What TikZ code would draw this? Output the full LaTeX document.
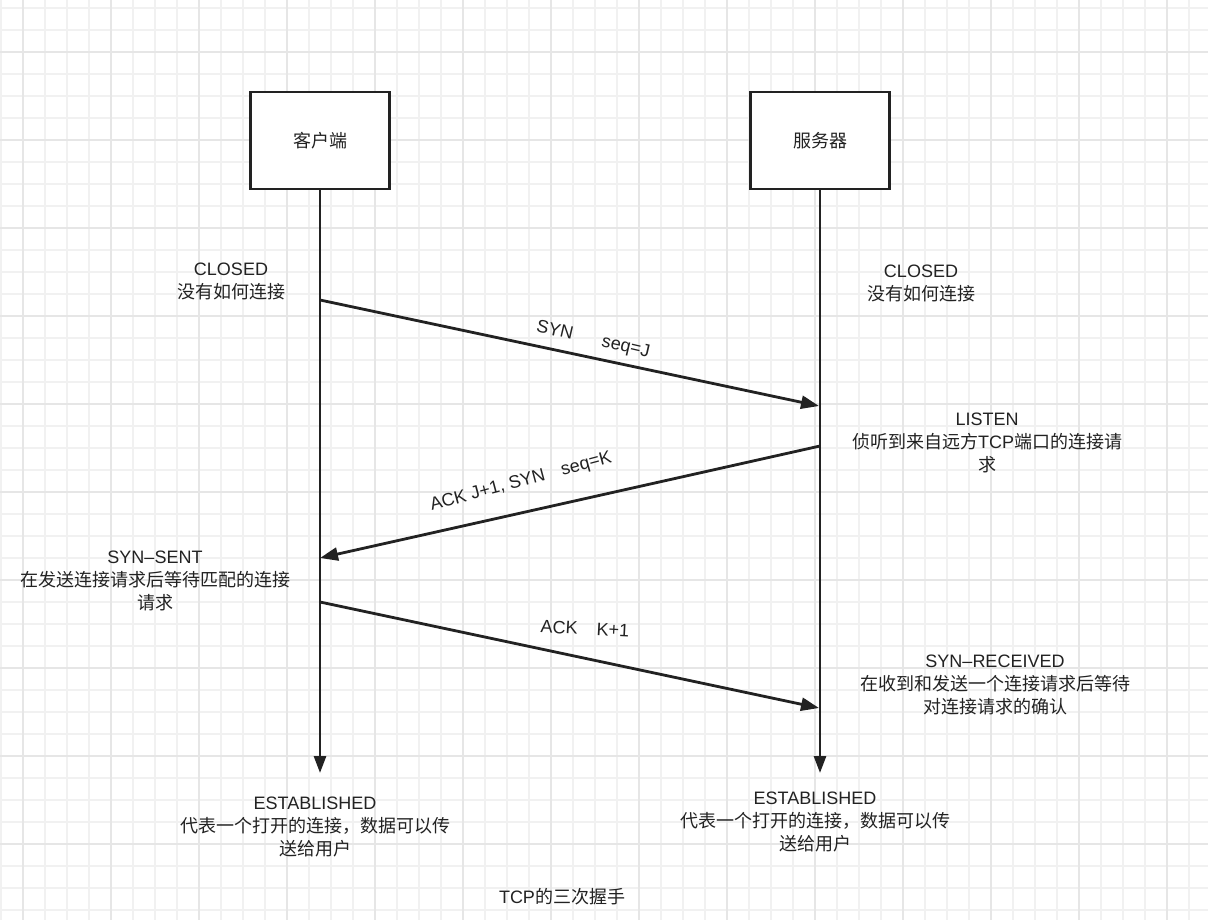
\documentclass[tikz,border=0pt]{standalone}
\usepackage{fontspec}
\setmainfont{Liberation Sans}
\newfontfamily\zhfont{Noto Sans CJK SC}
\newcommand{\zh}[1]{{\zhfont #1}}
\usetikzlibrary{arrows.meta}
\definecolor{ink}{HTML}{222222}
\definecolor{gridminor}{HTML}{F1F1F1}
\definecolor{gridmajor}{HTML}{E6E6E6}
\tikzset{
  minorline/.style={gridminor, line width=1.4pt},
  majorline/.style={gridmajor, line width=1.8pt},
  hostbox/.style={draw=ink, fill=white, line width=2.8pt, minimum width=139pt, minimum height=97pt, inner sep=0pt, text=ink},
  lifeline/.style={draw=ink, line width=2.8pt, -{Triangle[length=17pt,width=12pt]}},
  msgline/.style={draw=ink, line width=2.8pt, -{Triangle[length=18pt,width=13pt]}},
  statetext/.style={align=center, text=ink, inner sep=0pt},
}
\begin{document}
\begin{tikzpicture}[x=1pt, y=-1pt, font=\fontsize{18}{23}\selectfont]
        \useasboundingbox[fill=white] (0,0) rectangle (1208,920);
        %griglia
        \foreach \gx in {1,23,...,1207} \draw[minorline] (\gx,0) -- (\gx,920);
        \foreach \gy in {8,30,...,918} \draw[minorline] (0,\gy) -- (1208,\gy);
        \foreach \gx in {23,111,...,1207} \draw[majorline] (\gx,0) -- (\gx,920);
        \foreach \gy in {52,140,...,918} \draw[majorline] (0,\gy) -- (1208,\gy);

        %host
        \node[hostbox] (client) at (320,140.5) {\zh{客户端}};
        \node[hostbox] (server) at (820,140.5) {\zh{服务器}};

        %linee di vita
        \coordinate (clientend) at (320,773);
        \coordinate (serverend) at (820,773);
        \draw[lifeline] (client.south) -- (clientend);
        \draw[lifeline] (server.south) -- (serverend);

        %messaggi
        \coordinate (synout) at (320,300);
        \coordinate (synin) at (819,406);
        \coordinate (synackout) at (820,446);
        \coordinate (synackin) at (320,558);
        \coordinate (ackout) at (320,602);
        \coordinate (ackin) at (819,708);
        \draw[msgline] (synout) -- (synin);
        \draw[msgline] (synackout) -- (synackin);
        \draw[msgline] (ackout) -- (ackin);

        %label messaggi
        \node[statetext, rotate=-13] (synlabel) at (593,340) {SYN\hspace{30pt}seq=J};
        \node[statetext, rotate=15] (synacklabel) at (521,482) {ACK J+1, SYN\hspace{17pt}seq=K};
        \node[statetext, rotate=-3] (acklabel) at (585,628.5) {ACK\hspace{19pt}K+1};

        %stati
        \node[statetext] (closedc) at (231,281) {CLOSED\\\zh{没有如何连接}};
        \node[statetext] (closeds) at (921,283) {CLOSED\\\zh{没有如何连接}};
        \node[statetext] (listen) at (987,443) {LISTEN\\\zh{侦听到来自远方}TCP\zh{端口的连接请}\\\zh{求}};
        \node[statetext] (synsent) at (155,581) {SYN–SENT\\\zh{在发送连接请求后等待匹配的连接}\\\zh{请求}};
        \node[statetext] (synrcvd) at (995,685) {SYN–RECEIVED\\\zh{在收到和发送一个连接请求后等待}\\\zh{对连接请求的确认}};
        \node[statetext] (estc) at (315,827) {ESTABLISHED\\\zh{代表一个打开的连接，数据可以传}\\\zh{送给用户}};
        \node[statetext] (ests) at (815,822) {ESTABLISHED\\\zh{代表一个打开的连接，数据可以传}\\\zh{送给用户}};

        %titolo
        \node[statetext] (title) at (562,897) {TCP\zh{的三次握手}};
    \end{tikzpicture}
\end{document}
